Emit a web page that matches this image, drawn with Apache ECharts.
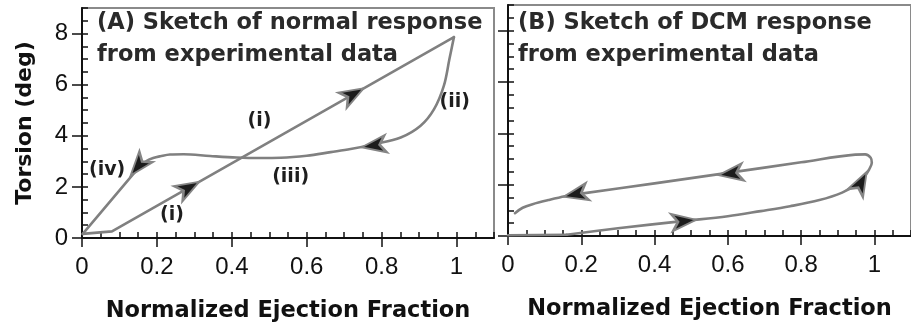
<!DOCTYPE html>
<html>
<head>
<meta charset="utf-8">
<script src="https://cdn.jsdelivr.net/npm/echarts@6/dist/echarts.min.js"></script>
<style>
html,body{margin:0;padding:0;background:#fff;}
#chart{width:911px;height:328px;}
</style>
</head>
<body>
<div id="chart"></div>
<script>
// ---------- data ----------
const xTickValues = [0, 0.2, 0.4, 0.6, 0.8, 1];
const xTickLabels = ['0', '0.2', '0.4', '0.6', '0.8', '1'];
const yTickValues = [0, 2, 4, 6, 8];
const yTickLabels = ['0', '2', '4', '6', '8'];

const titleA = '(A) Sketch of normal response\nfrom experimental data';
const titleB = '(B) Sketch of DCM response\nfrom experimental data';
const xName = 'Normalized Ejection Fraction';
const yName = 'Torsion (deg)';

// Panel A: normal response
const A_rise_x = [0.002, 0.08, 0.993];
const A_rise_y = [0.16, 0.26, 7.86];
const A_return_x = [0.993, 0.981, 0.966, 0.94, 0.904, 0.851, 0.78, 0.717, 0.664, 0.6, 0.531, 0.475, 0.413, 0.342, 0.271, 0.235, 0.209, 0.19, 0.173, 0.153];
const A_return_y = [7.86, 7.0, 5.95, 5.04, 4.39, 3.93, 3.67, 3.48, 3.36, 3.22, 3.14, 3.13, 3.15, 3.21, 3.28, 3.27, 3.2, 3.13, 3.02, 2.78];
const A_iv_x = [0.153, 0.002];
const A_iv_y = [2.78, 0.16];

// arrow tips and a point further along the path (for direction)
const A_arrow_x = [0.313, 0.752, 0.747, 0.13];
const A_arrow_y = [2.2, 5.86, 3.55, 2.45];
const A_arrow_to_x = [0.993, 0.993, 0.70, 0.002];
const A_arrow_to_y = [7.86, 7.86, 3.45, 0.16];

const A_note_text = ['(i)', '(ii)', '(iii)', '(iv)', '(i)'];
const A_note_x = [0.474, 0.995, 0.557, 0.067, 0.24];
const A_note_y = [4.58, 5.30, 2.38, 2.64, 0.91];

// Panel B: DCM response
const B_base_x = [0.0, 0.16];
const B_base_y = [0.03, 0.05];
const B_loop_x = [0.16, 0.3, 0.476, 0.6, 0.69, 0.77, 0.85, 0.912, 0.95, 0.972, 0.986, 0.993, 0.99, 0.975, 0.948, 0.8, 0.6, 0.4, 0.2, 0.156, 0.11, 0.067, 0.04, 0.019];
const B_loop_y = [0.05, 0.3, 0.58, 0.77, 0.97, 1.16, 1.4, 1.69, 2.0, 2.3, 2.6, 2.85, 3.05, 3.18, 3.17, 2.87, 2.46, 2.05, 1.65, 1.55, 1.4, 1.24, 1.1, 0.89];

const B_arrow_x = [0.513, 0.979, 0.575, 0.152];
const B_arrow_y = [0.63, 2.5, 2.37, 1.53];
const B_arrow_to_x = [0.6, 0.992, 0.4, 0.09];
const B_arrow_to_y = [0.77, 2.85, 2.03, 1.34];

// ---------- styling ----------
const FONT = 'DejaVu Sans';
const NUM_FONT = 'Liberation Sans';
const AXIS_C = '#111';
const CURVE_C = '#808080';

function zip(xs, ys) { return xs.map((x, i) => [x, ys[i]]); }
function fmt(vals, labels) {
  return function (v) {
    for (let i = 0; i < vals.length; i++) if (Math.abs(vals[i] - v) < 1e-9) return labels[i];
    return '';
  };
}

function mainX(grid) {
  return {
    type: 'value', gridIndex: grid, min: 0, max: 1.1, interval: 0.2, position: 'bottom',
    axisLine: { show: true, onZero: false, lineStyle: { color: AXIS_C, width: 2 } },
    axisTick: { show: true, inside: false, length: 9, customValues: xTickValues, lineStyle: { color: AXIS_C, width: 1.5 } },
    axisLabel: { show: true, customValues: xTickValues, formatter: fmt(xTickValues, xTickLabels), margin: 17,
      fontSize: 24, color: AXIS_C, fontFamily: NUM_FONT },
    splitLine: { show: false },
    name: xName, nameLocation: 'middle', nameGap: 62,
    nameTextStyle: { fontSize: 22.5, fontWeight: 'bold', color: AXIS_C, fontFamily: FONT }
  };
}
function innerX(grid) {
  return {
    type: 'value', gridIndex: grid, min: 0, max: 1.1, interval: 0.05, position: 'bottom',
    axisLine: { show: false, onZero: false },
    axisTick: { show: true, inside: true, length: 6, lineStyle: { color: AXIS_C, width: 1.5 } },
    axisLabel: { show: false }, splitLine: { show: false }
  };
}
function mainY(grid, withLabels) {
  const ax = {
    type: 'value', gridIndex: grid, min: 0, max: 9, interval: 2, position: 'left',
    axisLine: { show: true, onZero: false, lineStyle: { color: AXIS_C, width: 2 } },
    axisTick: { show: true, inside: false, length: 10, customValues: yTickValues, lineStyle: { color: AXIS_C, width: 1.5 } },
    axisLabel: { show: withLabels, customValues: yTickValues, formatter: fmt(yTickValues, yTickLabels), margin: 14,
      fontSize: 24, color: AXIS_C, fontFamily: NUM_FONT },
    splitLine: { show: false }
  };
  if (withLabels) {
    ax.name = yName; ax.nameLocation = 'middle'; ax.nameGap = 46;
    ax.nameTextStyle = { fontSize: 22, fontWeight: 'bold', color: AXIS_C, fontFamily: FONT };
  }
  return ax;
}
function innerY(grid) {
  return {
    type: 'value', gridIndex: grid, min: 0, max: 9, interval: 0.5, position: 'left',
    axisLine: { show: false, onZero: false },
    axisTick: { show: true, inside: true, length: 6, lineStyle: { color: AXIS_C, width: 1.5 } },
    axisLabel: { show: false }, splitLine: { show: false }
  };
}

function curve(data, axis, smooth) {
  return {
    type: 'line', xAxisIndex: axis, yAxisIndex: axis, data: data, smooth: smooth,
    symbol: 'none', showSymbol: false, silent: true, z: 3,
    lineStyle: { color: CURVE_C, width: 2.6, cap: 'round', join: 'round' }
  };
}
function arrows(xs, ys, axis) {
  return {
    type: 'scatter', xAxisIndex: axis, yAxisIndex: axis, z: 5, silent: true,
    symbol: 'arrow', symbolSize: [13, 24],
    itemStyle: { color: '#1c1c1c', borderColor: '#858585', borderWidth: 2.2, opacity: 1 },
    data: zip(xs, ys).map(p => ({ value: p, symbolRotate: 0 }))
  };
}

const chart = echarts.init(document.getElementById('chart'), null, { renderer: 'canvas' });

const option = {
  animation: false,
  backgroundColor: '#fff',
  title: [
    { text: titleA, left: 97, top: 7, padding: 0,
      textStyle: { fontFamily: FONT, fontSize: 22.5, fontWeight: 'bold', color: '#2a2a2a', lineHeight: 32 } },
    { text: titleB, left: 518, top: 7, padding: 0,
      textStyle: { fontFamily: FONT, fontSize: 22.5, fontWeight: 'bold', color: '#2a2a2a', lineHeight: 32 } }
  ],
  grid: [
    { left: 82, top: 8, width: 412, height: 231, show: true, borderColor: '#8a8a8a', borderWidth: 2, backgroundColor: 'transparent' },
    { left: 508, top: 5, width: 412, height: 231, show: true, borderColor: '#8a8a8a', borderWidth: 2, backgroundColor: 'transparent' }
  ],
  xAxis: [mainX(0), innerX(0), mainX(1), innerX(1)],
  yAxis: [mainY(0, true), innerY(0), mainY(1, false), innerY(1)],
  series: [
    curve(zip(A_rise_x, A_rise_y), 0, false),
    curve(zip(A_return_x, A_return_y), 0, 0.35),
    curve(zip(A_iv_x, A_iv_y), 0, false),
    arrows(A_arrow_x, A_arrow_y, 0),
    {
      type: 'scatter', xAxisIndex: 0, yAxisIndex: 0, z: 6, silent: true,
      symbol: 'circle', symbolSize: 1, itemStyle: { color: 'rgba(255,255,255,0)', opacity: 1 },
      label: { show: true, position: 'inside', formatter: p => p.name, textBorderWidth: 0, opacity: 1,
        fontFamily: FONT, fontSize: 19, fontWeight: 'bold', color: '#1e1e1e' },
      data: A_note_text.map((t, i) => ({ name: t, value: [A_note_x[i], A_note_y[i]] }))
    },
    curve(zip(B_base_x, B_base_y), 2, false),
    curve(zip(B_loop_x, B_loop_y), 2, 0.35),
    arrows(B_arrow_x, B_arrow_y, 2)
  ]
};
chart.setOption(option);

// orient arrow heads along the path direction (in pixel space)
function rotations(xs, ys, tx, ty, gridIndex) {
  return xs.map((x, i) => {
    const p0 = chart.convertToPixel({ gridIndex: gridIndex }, [x, ys[i]]);
    const p1 = chart.convertToPixel({ gridIndex: gridIndex }, [tx[i], ty[i]]);
    const ang = Math.atan2(-(p1[1] - p0[1]), p1[0] - p0[0]) * 180 / Math.PI;
    return ang - 90;
  });
}
const rotA = rotations(A_arrow_x, A_arrow_y, A_arrow_to_x, A_arrow_to_y, 0);
const rotB = rotations(B_arrow_x, B_arrow_y, B_arrow_to_x, B_arrow_to_y, 1);
option.series[3].data = zip(A_arrow_x, A_arrow_y).map((p, i) => ({ value: p, symbolRotate: rotA[i] }));
option.series[7].data = zip(B_arrow_x, B_arrow_y).map((p, i) => ({ value: p, symbolRotate: rotB[i] }));
chart.setOption(option);
</script>
</body>
</html>
